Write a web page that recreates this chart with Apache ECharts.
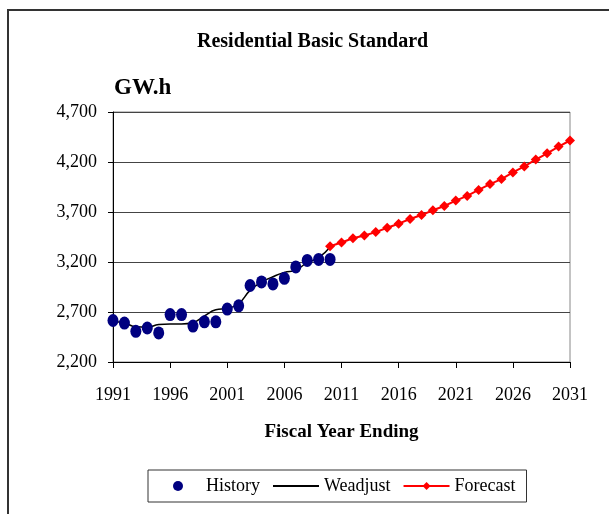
<!DOCTYPE html>
<html>
<head>
<meta charset="utf-8">
<script src="https://cdn.jsdelivr.net/npm/echarts@6/dist/echarts.min.js"></script>
<style>
  html, body { margin: 0; padding: 0; background: #fff; }
  #chart { width: 609px; height: 514px; }
</style>
</head>
<body>
<div id="chart"></div>
<script>
// fiscal years 1991 .. 2031
const years = []
for (let y = 1991; y <= 2031; y++) years.push(String(y))

// GW.h, 1991-2010
const history = [2615, 2589, 2507, 2540, 2491, 2674, 2674, 2559, 2602, 2602,
  2729, 2762, 2965, 3001, 2981, 3037, 3151, 3216, 3226, 3226]

// weather adjusted trend, 1991-2010
const weadjust = [2605, 2590, 2552, 2548, 2575, 2580, 2580, 2595, 2660, 2722,
  2736, 2785, 2916, 2998, 3053, 3096, 3119, 3194, 3243, 3350]

// forecast, 2010-2031
const forecast = [3358, 3395, 3438, 3465, 3499, 3542, 3583, 3630, 3670, 3717,
  3760, 3814, 3861, 3921, 3979, 4029, 4096, 4156, 4224, 4287, 4354, 4415]

const pad = (arr, before, total) => {
  const out = new Array(before).fill(null).concat(arr)
  while (out.length < total) out.push(null)
  return out
}

const font = "'Liberation Serif', 'Times New Roman', serif"
const chart = echarts.init(document.getElementById('chart'))

chart.setOption({
  animation: false,
  textStyle: { fontFamily: font, color: '#000' },
  title: [{
    text: 'Residential Basic Standard',
    left: 192,
    top: 27,
    textStyle: { fontFamily: font, fontSize: 20, fontWeight: 'bold', color: '#000' }
  }, {
    text: 'GW.h',
    left: 109,
    top: 72,
    textStyle: { fontFamily: font, fontSize: 23, fontWeight: 'bold', color: '#000' }
  }],
  graphic: [{
    type: 'polyline',
    shape: { points: [[8, 520], [8, 10], [612, 10]] },
    style: { stroke: '#333', lineWidth: 2, fill: null }
  }],
  grid: {
    left: 113,
    right: 39,
    top: 112,
    bottom: 152,
    show: true,
    borderColor: '#888',
    borderWidth: 1
  },
  legend: {
    left: 148,
    top: 470,
    itemWidth: 46,
    itemHeight: 10,
    itemGap: 12,
    padding: [7, 11, 7, 25],
    borderColor: '#333',
    borderWidth: 1,
    textStyle: { fontFamily: font, fontSize: 18, color: '#000' },
    data: [
      { name: 'History' },
      { name: 'Weadjust', itemStyle: { opacity: 0 } },
      { name: 'Forecast' }
    ]
  },
  xAxis: {
    type: 'category',
    data: years,
    boundaryGap: false,
    name: 'Fiscal Year Ending',
    nameLocation: 'middle',
    nameGap: 61,
    nameTextStyle: { fontFamily: font, fontSize: 19, fontWeight: 'bold', color: '#000' },
    axisLine: { lineStyle: { color: '#000', width: 1 } },
    axisTick: { interval: 4, length: 6, lineStyle: { color: '#000' } },
    axisLabel: { interval: 4, fontFamily: font, fontSize: 18, color: '#000', margin: 24 },
    splitLine: { show: false }
  },
  yAxis: {
    type: 'value',
    min: 2200,
    max: 4700,
    interval: 500,
    axisLine: { show: true, lineStyle: { color: '#000', width: 1 } },
    axisTick: { show: true, length: 5, lineStyle: { color: '#000' } },
    axisLabel: {
      fontFamily: font,
      fontSize: 18,
      color: '#000',
      margin: 16,
      formatter: v => v.toLocaleString('en-US')
    },
    splitLine: { lineStyle: { color: '#444', width: 1 } }
  },
  series: [{
    name: 'History',
    type: 'scatter',
    data: history,
    symbol: 'circle',
    symbolSize: [11, 13],
    itemStyle: { color: '#000080', opacity: 1 },
    z: 3
  }, {
    name: 'Weadjust',
    type: 'line',
    data: pad(weadjust, 0, years.length),
    smooth: true,
    symbol: 'none',
    lineStyle: { color: '#000', width: 1.5 },
    itemStyle: { color: '#000' },
    z: 2
  }, {
    name: 'Forecast',
    type: 'line',
    data: pad(forecast, 19, years.length),
    symbol: 'diamond',
    symbolSize: 10,
    showAllSymbol: true,
    lineStyle: { color: '#ff0000', width: 2 },
    itemStyle: { color: '#ff0000' },
    z: 4
  }]
})
</script>
</body>
</html>
